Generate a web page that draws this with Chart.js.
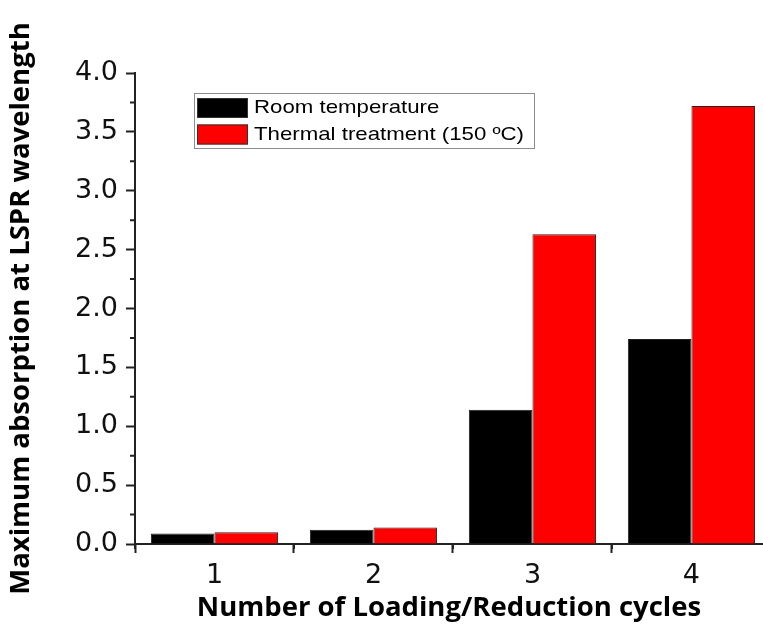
<!DOCTYPE html>
<html>
<head>
<meta charset="utf-8">
<title>LSPR absorption vs loading/reduction cycles</title>
<script src="https://cdn.jsdelivr.net/npm/chart.js@4"></script>
<style>
  html, body { margin: 0; padding: 0; background: #fff; }
  #wrap { width: 763px; height: 625px; }
</style>
</head>
<body>
<div id="wrap"><canvas id="absorptionChart" width="763" height="625"></canvas></div>
<script>
// number of loading/reduction cycles
const cycles = [1, 2, 3, 4];
// max absorption at the LSPR wavelength
const roomTemp = [0.09, 0.12, 1.14, 1.74];
const thermal = [0.10, 0.14, 2.63, 3.72];
const seriesNames = ["Room temperature", "Thermal treatment (150 ºC)"];

const toPoints = vals => cycles.map((c, i) => ({ x: c, y: vals[i] }));

// small tick marks between the labelled ones
const minorTicks = {
  id: "minorTicks",
  afterDraw(chart) {
    const { x, y } = chart.scales;
    const ctx = chart.ctx;
    ctx.save();
    ctx.strokeStyle = "#222";
    ctx.lineWidth = 2;
    ctx.beginPath();
    for (let v = 0.5; v < x.max; v += 1) {
      const px = x.getPixelForValue(v);
      ctx.moveTo(px, x.top);
      ctx.lineTo(px, x.top + 5);
    }
    for (let v = 0.25; v < y.max; v += 0.5) {
      const py = y.getPixelForValue(v);
      ctx.moveTo(y.right, py);
      ctx.lineTo(y.right - 5, py);
    }
    ctx.stroke();
    ctx.restore();
  }
};

// legend inside the plot, with a thin frame
const boxedLegend = {
  id: "boxedLegend",
  afterDraw(chart) {
    const ctx = chart.ctx;
    const left = chart.chartArea.left + 59;
    const top = chart.chartArea.top + 20;
    ctx.save();
    ctx.fillStyle = "#fff";
    ctx.fillRect(left, top, 340, 55);
    ctx.strokeStyle = "#8c8c8c";
    ctx.lineWidth = 1;
    ctx.strokeRect(left + 0.5, top + 0.5, 340, 55);
    ctx.font = "19px 'Liberation Sans', Arial, sans-serif";
    ctx.textBaseline = "middle";
    chart.data.datasets.forEach((ds, i) => {
      const rowTop = top + 5 + i * 26.5;
      ctx.fillStyle = ds.backgroundColor;
      ctx.fillRect(left + 3, rowTop, 51, 20);
      ctx.strokeStyle = "#333";
      ctx.strokeRect(left + 3.5, rowTop + 0.5, 50, 19);
      // labels are set a little wide
      ctx.save();
      ctx.translate(left + 60, rowTop + 10);
      ctx.scale(1.17, 1);
      ctx.fillStyle = "#000";
      ctx.fillText(ds.label, 0, 0);
      ctx.restore();
    });
    ctx.restore();
  }
};

const titleFont = { family: "'Open Sans'", weight: "bold", size: 27.5 };
const tickFont = { family: "'DejaVu Sans'", size: 27 };

new Chart(document.getElementById("absorptionChart"), {
  type: "bar",
  data: {
    datasets: [
      {
        label: seriesNames[0],
        data: toPoints(roomTemp),
        backgroundColor: "#000000",
        borderColor: "#222",
        borderWidth: 1
      },
      {
        label: seriesNames[1],
        data: toPoints(thermal),
        backgroundColor: "#ff0000",
        borderColor: "#222",
        borderWidth: 1
      }
    ]
  },
  options: {
    responsive: false,
    animation: false,
    devicePixelRatio: 1,
    categoryPercentage: 0.8,
    barPercentage: 1.0,
    layout: { padding: { top: 73, right: 0, bottom: 0, left: 0 } },
    plugins: {
      legend: { display: false },
      tooltip: { enabled: false }
    },
    scales: {
      x: {
        type: "linear",
        offset: false,
        min: 0.5,
        max: 4.45,
        afterBuildTicks: scale => {
          scale.ticks = cycles.map(v => ({ value: v }));
        },
        afterFit: scale => { scale.height = 81; },
        ticks: {
          font: tickFont,
          color: "#111",
          padding: 7,
          callback: v => String(v)
        },
        grid: {
          drawOnChartArea: false,
          drawTicks: true,
          tickLength: 9,
          tickWidth: 2,
          tickColor: "#222"
        },
        border: { display: true, color: "#222", width: 2 },
        title: {
          display: true,
          text: "Number of Loading/Reduction cycles",
          font: titleFont,
          color: "#000",
          padding: { top: 0, bottom: 0 }
        }
      },
      y: {
        min: 0,
        max: 4,
        afterFit: scale => { scale.width = 135; },
        ticks: {
          stepSize: 0.5,
          font: tickFont,
          color: "#111",
          padding: 8,
          callback: v => v.toFixed(1)
        },
        grid: {
          drawOnChartArea: false,
          drawTicks: true,
          tickLength: 9,
          tickWidth: 2,
          tickColor: "#222"
        },
        border: { display: true, color: "#222", width: 2 },
        title: {
          display: true,
          text: "Maximum absorption at LSPR wavelength",
          font: titleFont,
          color: "#000",
          padding: { top: 5, bottom: 0 }
        }
      }
    }
  },
  plugins: [minorTicks, boxedLegend]
});
</script>
</body>
</html>
